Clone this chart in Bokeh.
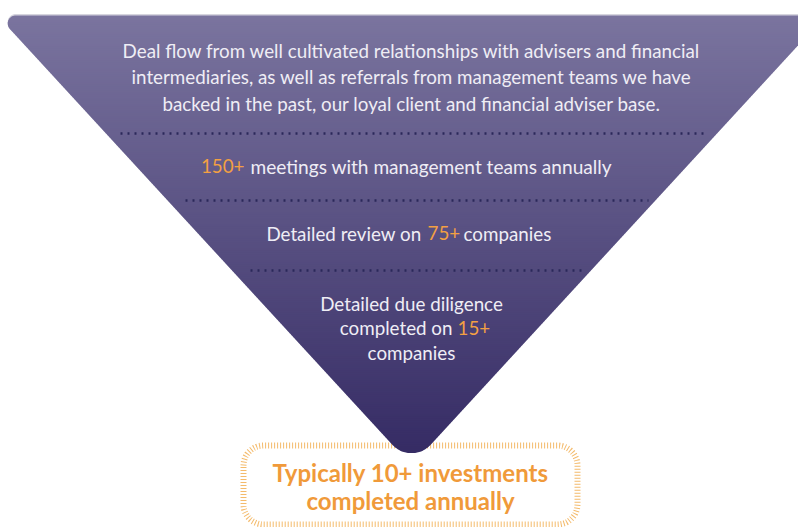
import numpy as np
from bokeh.plotting import figure
from bokeh.models import Range1d
from bokeh.embed import file_html
from bokeh.resources import INLINE
from bokeh.core.properties import value

# ---------------- content ----------------
intro_lines = [
    "Deal flow from well cultivated relationships with advisers and financial",
    "intermediaries, as well as referrals from management teams we have",
    "backed in the past, our loyal client and financial adviser base.",
]
stage1_number = "150+"
stage1_text = "meetings with management teams annually"
stage2_before = "Detailed review on"
stage2_number = "75+"
stage2_after = "companies"
stage3_line1 = "Detailed due diligence"
stage3_before = "completed on"
stage3_number = "15+"
stage3_line3 = "companies"
result_lines = ["Typically 10+ investments", "completed annually"]

# ---------------- style ----------------
FONT = value("Lato")
FS = "18.8px"
WHITE = "#efedf5"
ORANGE = "#f3a043"
BOX_ORANGE = "#f09a3a"
STRIPE = "#f4bb6c"
DOT = "#2b285a"
TOP_RGB = np.array([123, 117, 159])
BOT_RGB = np.array([54, 44, 101])


def rounded_poly(pts, radii, n=14):
    out_x, out_y = [], []
    N = len(pts)
    for i in range(N):
        P = np.array(pts[i], float)
        A = np.array(pts[i - 1], float)
        B = np.array(pts[(i + 1) % N], float)
        u = (A - P) / np.linalg.norm(A - P)
        v = (B - P) / np.linalg.norm(B - P)
        theta = np.arccos(np.clip(np.dot(u, v), -1, 1))
        r = radii[i]
        t = r / np.tan(theta / 2)
        T1 = P + u * t
        T2 = P + v * t
        bis = (u + v) / np.linalg.norm(u + v)
        C = P + bis * r / np.sin(theta / 2)
        a1 = np.arctan2(*(T1 - C)[::-1])
        a2 = np.arctan2(*(T2 - C)[::-1])
        da = (a2 - a1 + np.pi) % (2 * np.pi) - np.pi
        ang = a1 + da * np.linspace(0, 1, n)
        out_x += list(C[0] + r * np.cos(ang))
        out_y += list(C[1] + r * np.sin(ang))
    return out_x, out_y


def clip_half(xs, ys, yc, keep_greater):
    out = []
    pts = list(zip(xs, ys))
    inside = (lambda p: p[1] >= yc) if keep_greater else (lambda p: p[1] <= yc)
    for i in range(len(pts)):
        cur = pts[i]
        prev = pts[i - 1]
        ci, pi_ = inside(cur), inside(prev)
        if ci:
            if not pi_:
                t = (yc - prev[1]) / (cur[1] - prev[1])
                out.append((prev[0] + t * (cur[0] - prev[0]), yc))
            out.append(cur)
        elif pi_:
            t = (yc - prev[1]) / (cur[1] - prev[1])
            out.append((prev[0] + t * (cur[0] - prev[0]), yc))
    if not out:
        return [], []
    return [p[0] for p in out], [p[1] for p in out]


p = figure(width=798, height=527, x_range=Range1d(0, 798), y_range=Range1d(527, 0),
           output_backend="svg", toolbar_location=None, min_border=0,
           x_axis_location=None, y_axis_location=None)
p.grid.visible = False
p.outline_line_color = None
p.background_fill_color = "white"
p.border_fill_color = "white"

# ---------------- result box ----------------
bx, by = rounded_poly([(243, 445), (577, 445), (577, 524), (243, 524)], [20, 20, 20, 20])
p.patch(bx, by, fill_color="white", line_color=STRIPE, line_width=6, line_dash="1 2")

# ---------------- funnel ----------------
tri = [(-3, 15), (825, 15), (411, 465)]
tx, ty = rounded_poly(tri, [8, 8, 26], n=20)
p.patch(tx, list(np.array(ty) - 1.5), fill_color="#d6d5de", line_color=None)

top_y, bot_y = 15, 452
band_xs, band_ys, band_cols = [], [], []
step = 2.0
y0 = top_y - 1
while y0 < bot_y + 1:
    y1 = y0 + step
    cx, cy = clip_half(tx, ty, y0, True)
    if cx:
        cx, cy = clip_half(cx, cy, y1 + 0.7, False)
    if cx:
        f = np.clip(((y0 + y1) / 2 - top_y) / (bot_y - top_y), 0, 1)
        rgb = (TOP_RGB + (BOT_RGB - TOP_RGB) * f).astype(int)
        band_xs.append(cx)
        band_ys.append(cy)
        band_cols.append("#%02x%02x%02x" % tuple(rgb))
    y0 = y1
p.patches(band_xs, band_ys, fill_color=band_cols, line_color=None)

# dotted separators
sep_y = [133, 200, 270]
sep_x0 = [120, 185, 250]
sep_x1 = [705, 648, 583]
for yy, a, b in zip(sep_y, sep_x0, sep_x1):
    p.line([a, b], [yy, yy], line_color=DOT, line_width=2.5, line_dash="2 5")

# ---------------- texts ----------------
def txt(x, y, s, color=WHITE, align="center", size=FS, style="normal"):
    p.text(x=x if isinstance(x, list) else [x], y=y if isinstance(y, list) else [y],
           text=s if isinstance(s, list) else [s], text_font=FONT, text_font_size=size,
           text_font_style=style, text_color=color, text_align=align, text_baseline="middle")

txt([411, 411, 411], [49.5, 76, 102.5], intro_lines)

txt(244, 165.5, stage1_number, ORANGE, "right")
txt(250, 165.5, stage1_text, WHITE, "left", "19.1px")

txt(421, 232.5, stage2_before, WHITE, "right")
txt(427, 232.5, stage2_number, ORANGE, "left")
txt(463, 232.5, stage2_after, WHITE, "left")

txt(411, 302.5, stage3_line1)
txt(452, 327, stage3_before, WHITE, "right")
txt(457, 327, stage3_number, ORANGE, "left")
txt(411, 352, stage3_line3)

txt([410, 410], [471.5, 499.5], result_lines, BOX_ORANGE, "center", "24px", "bold")

open("out.html", "w").write(file_html(p, INLINE))
